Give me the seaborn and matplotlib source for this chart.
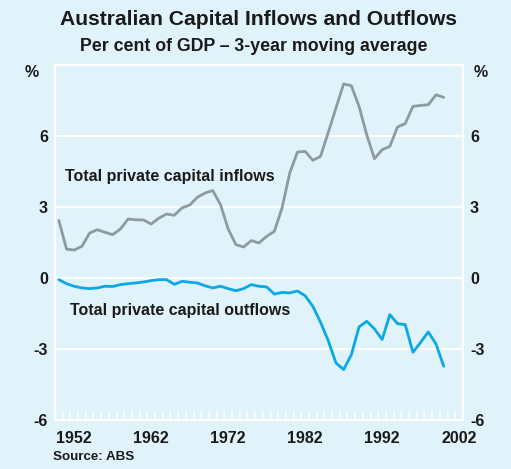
import numpy as np
import pandas as pd
import seaborn as sns
import matplotlib.pyplot as plt
from matplotlib.ticker import FixedLocator, NullFormatter

# annual observations, plotted at mid-year
years = list(range(1950, 2001))

inflows = [2.43, 1.22, 1.18, 1.34, 1.90, 2.04, 1.93, 1.83, 2.07, 2.49,
           2.46, 2.45, 2.28, 2.53, 2.70, 2.65, 2.96, 3.08, 3.41, 3.59,
           3.69, 3.10, 2.07, 1.41, 1.31, 1.58, 1.48, 1.76, 1.97, 2.96,
           4.44, 5.32, 5.35, 4.97, 5.14, 6.15, 7.18, 8.20, 8.12, 7.25,
           6.05, 5.04, 5.42, 5.56, 6.38, 6.52, 7.25, 7.29, 7.32, 7.74,
           7.63]

outflows = [-0.07, -0.24, -0.35, -0.42, -0.45, -0.42, -0.35, -0.36, -0.28, -0.24,
            -0.21, -0.17, -0.11, -0.07, -0.07, -0.27, -0.14, -0.18, -0.21, -0.33,
            -0.42, -0.35, -0.45, -0.54, -0.45, -0.28, -0.35, -0.38, -0.68, -0.61,
            -0.63, -0.55, -0.75, -1.20, -1.87, -2.65, -3.59, -3.87, -3.24, -2.07,
            -1.83, -2.15, -2.60, -1.55, -1.93, -1.97, -3.14, -2.72, -2.28, -2.79,
            -3.73]

y_ticks = [-6, -3, 0, 3, 6]
x_labels = [1952, 1962, 1972, 1982, 1992, 2002]

BG = '#e0f2fa'
GREY = '#8e9aa2'
BLUE = '#0ba8e6'
INK = '#1a1a1a'

sns.set_theme(style='white', rc={'axes.facecolor': BG, 'figure.facecolor': BG})
plt.rcParams['font.family'] = ['Liberation Sans', 'DejaVu Sans']
plt.rcParams['font.weight'] = 'bold'

df = pd.DataFrame({'year': np.array(years) + 0.5, 'inflows': inflows, 'outflows': outflows})

fig = plt.figure(figsize=(5.11, 4.69), dpi=100)
ax = fig.add_axes([0.1076, 0.1045, 0.7984, 0.757])

sns.lineplot(data=df, x='year', y='inflows', color=GREY, linewidth=2.0, ax=ax)
sns.lineplot(data=df, x='year', y='outflows', color=BLUE, linewidth=2.0, ax=ax)

ax.set_xlim(1950, 2003)
ax.set_ylim(-6, 9)
ax.set_xlabel('')
ax.set_ylabel('')

for y in [-3, 0, 3, 6]:
    ax.axhline(y, color='white', linewidth=1.6, zorder=0.5)

for s in ax.spines.values():
    s.set_color('white')
    s.set_linewidth(1.6)

ax.set_yticks(y_ticks)
ax.set_yticklabels([str(t) for t in y_ticks])
ax.tick_params(axis='y', length=0, labelsize=11.5, pad=5,
               labelleft=True, labelright=True, labelcolor=INK)

# year labels centred on the year, minor ticks at each year boundary
ax.set_xticks([x + 0.5 for x in x_labels])
ax.set_xticklabels([str(x) for x in x_labels])
ax.tick_params(axis='x', which='major', length=0, labelsize=11.5, pad=8, labelcolor=INK)
ax.xaxis.set_minor_locator(FixedLocator(list(range(1951, 2003))))
ax.xaxis.set_minor_formatter(NullFormatter())
ax.tick_params(axis='x', which='minor', direction='in', length=6, width=1.2,
               color='white', bottom=True)

for lab in ax.get_xticklabels() + ax.get_yticklabels():
    lab.set_fontweight('bold')

ax.text(-0.04, 0.98, '%', transform=ax.transAxes, ha='right', va='center',
        fontsize=11.5, fontweight='bold', color=INK)
ax.text(1.025, 0.98, '%', transform=ax.transAxes, ha='left', va='center',
        fontsize=11.5, fontweight='bold', color=INK)

ax.text(1951.3, 4.3, 'Total private capital inflows', fontsize=11.5,
        fontweight='bold', color=INK, va='center')
ax.text(1951.9, -1.38, 'Total private capital outflows', fontsize=11.5,
        fontweight='bold', color=INK, va='center')

fig.text(0.505, 0.958, 'Australian Capital Inflows and Outflows', ha='center', va='center',
         fontsize=15.2, fontweight='bold', color=INK)
fig.text(0.497, 0.900, 'Per cent of GDP \u2013 3-year moving average', ha='center', va='center',
         fontsize=12.8, fontweight='bold', color=INK)
fig.text(0.104, 0.025, 'Source: ABS', ha='left', va='center',
         fontsize=9.6, fontweight='bold', color=INK)

fig.savefig('out.png', dpi=100, facecolor=BG)
